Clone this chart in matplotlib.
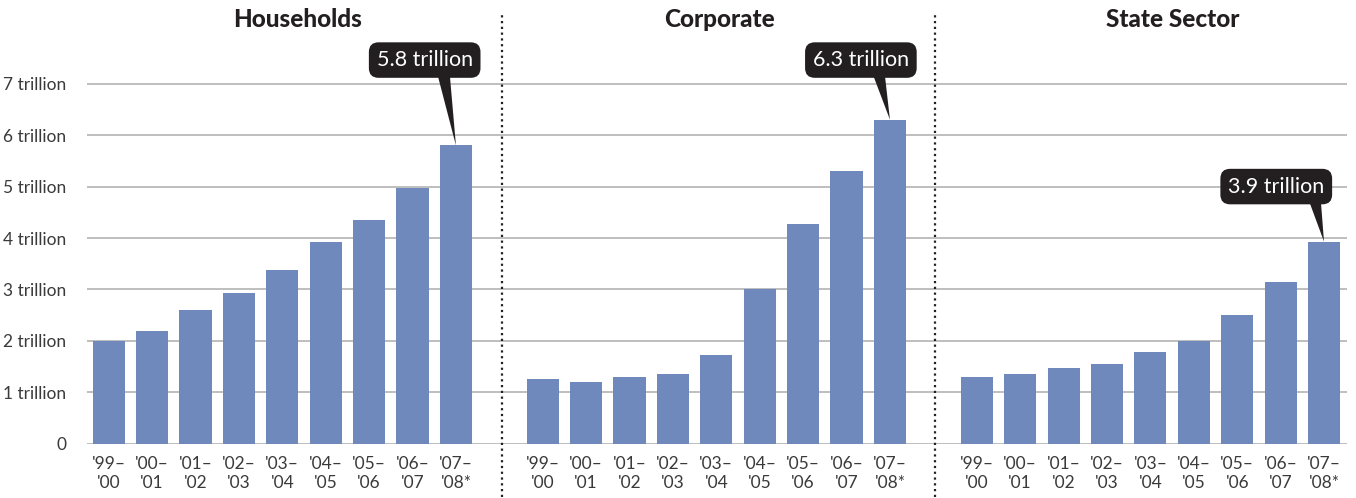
import matplotlib
matplotlib.use("Agg")
import matplotlib.pyplot as plt
from matplotlib.patches import Polygon

plt.rcParams['font.family'] = ['Lato', 'DejaVu Sans']

periods = ["'99–\n'00", "'00–\n'01", "'01–\n'02", "'02–\n'03", "'03–\n'04",
           "'04–\n'05", "'05–\n'06", "'06–\n'07", "'07–\n'08*"]
panels = ["Households", "Corporate", "State Sector"]
households = [2.0, 2.2, 2.6, 2.93, 3.38, 3.93, 4.35, 4.98, 5.8]
corporate = [1.25, 1.2, 1.3, 1.35, 1.72, 3.0, 4.27, 5.3, 6.3]
state_sector = [1.3, 1.35, 1.47, 1.55, 1.78, 2.0, 2.5, 3.14, 3.93]
callouts = ["5.8 trillion", "6.3 trillion", "3.9 trillion"]
ytick_vals = [0, 1, 2, 3, 4, 5, 6, 7]
ytick_labels = ["0", "1 trillion", "2 trillion", "3 trillion", "4 trillion",
                "5 trillion", "6 trillion", "7 trillion"]

W, H = 1356, 498
fig = plt.figure(figsize=(W / 100, H / 100), dpi=100)
ax = fig.add_axes([87 / W, (498 - 443.7) / H, (1347 - 87) / W, (443.7 - 32.3) / H])

bar_color = '#7089bd'
text_color = '#3a3a3a'
series = [households, corporate, state_sector]
xticks, xlabels = [], []
for p, vals in enumerate(series):
    xs = [p * 10 + i for i in range(len(vals))]
    ax.bar(xs, vals, width=0.74, color=bar_color, zorder=3)
    xticks += xs
    xlabels += periods

ax.set_xlim(-0.5, 28.53)
ax.set_ylim(0, 8)
ax.set_yticks(ytick_vals)
ax.set_yticklabels(ytick_labels)
ax.set_xticks(xticks)
ax.set_xticklabels(xlabels, linespacing=1.25)
ax.tick_params(axis='both', length=0, colors=text_color, labelsize=12.5)
ax.tick_params(axis='y', pad=15)
ax.tick_params(axis='x', pad=9)
for lab in ax.get_xticklabels() + ax.get_yticklabels():
    lab.set_color(text_color)
ax.grid(axis='y', color='#b3b3b3', linewidth=1.2, zorder=0)
for s in ax.spines.values():
    s.set_visible(False)

# separators
trans = ax.get_xaxis_transform()
for xs in [9.06, 19.03]:
    ax.plot([xs, xs], [-0.13, 1.05], transform=trans, color='#222222',
            linestyle=(0, (1, 1.6)), linewidth=1.6, clip_on=False, zorder=4)

# titles
for title, tx in zip(panels, [4.35, 14.08, 24.52]):
    ax.text(tx, 1.03, title, transform=trans, ha='center', va='center',
            fontsize=17.5, fontweight='black', color='#231f20')

# callouts
box_x = [7.28, 17.33, 26.9]
box_y = [7.46, 7.46, 5.0]
tail_x = [7.7, 17.72, 27.77]
for p, vals in enumerate(series):
    bx = p * 10 + len(vals) - 1
    v = vals[-1]
    tri = Polygon([(tail_x[p] - 0.15, box_y[p] - 0.2), (tail_x[p] + 0.15, box_y[p] - 0.2),
                   (bx, v)], closed=True, facecolor='#231f20', edgecolor='none',
                  zorder=5, clip_on=False)
    ax.add_patch(tri)
    ax.text(box_x[p], box_y[p], callouts[p], ha='center', va='center', color='white',
            fontsize=15.5, zorder=6,
            bbox=dict(boxstyle='round,pad=0.36,rounding_size=0.45', fc='#231f20', ec='none'))

fig.savefig('out.png', dpi=100)
